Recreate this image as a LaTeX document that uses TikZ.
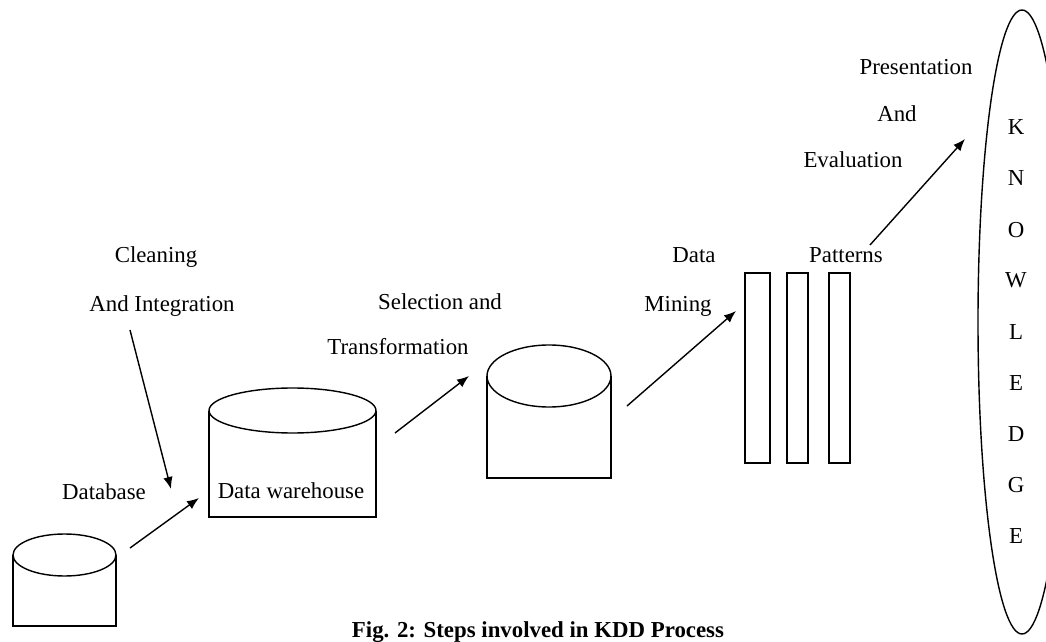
\documentclass[tikz,border=0pt]{standalone}
\usepackage{fontspec}
\setmainfont{Liberation Serif}
\usetikzlibrary{arrows.meta,positioning}
\tikzstyle{stage} = [text centered, anchor=base, inner sep=0pt, font=\fontsize{13}{15}\selectfont]
\tikzstyle{caption} = [stage, font=\fontsize{13}{15}\selectfont\bfseries]
\tikzstyle{store} = [draw, line width=0.8pt]
\tikzstyle{patbox} = [draw, line width=0.8pt, minimum height=3.8cm, inner sep=0pt]
\tikzstyle{arrow} = [draw, line width=0.8pt, -{Latex[length=2.4mm,width=1.9mm]}]
\newcommand{\stage}[2]{node (s#1) [stage] {#2}}
\newcommand{\patbox}[2]{node (p#1) [patbox, minimum width=#2] {}}
\newcommand{\dbstore}[6]{%
% sides and bottom of the cylinder
\path[store] (#2-#4,#3) -- (#2-#4,#6) -- (#2+#4,#6) -- (#2+#4,#3);
% top face
\path[store] (#2,#3) ellipse (#4 and #5);
\coordinate (#1) at (#2,#3);}

\begin{document}
\begin{tikzpicture}[x=0.02cm,y=-0.02cm]
\useasboundingbox (0,0) rectangle (1046,642);

\dbstore{db}{64.5}{555}{51.5}{21}{626}
\dbstore{dw}{292.5}{410.5}{83.5}{22.5}{517}
\dbstore{st}{549}{376}{62}{31}{478}

\path (757.5,368) \patbox{1}{0.5cm};
\path (p1)+(40,0) \patbox{2}{0.42cm};
\path (p2)+(42,0) \patbox{3}{0.42cm};

\path[store] (1022,322) ellipse (44 and 312);
\coordinate (kn) at (1022,322);

\path (156,263) \stage{1}{Cleaning};
\path (s1.base)+(6,49) \stage{2}{And Integration};
\path (104,499) \stage{3}{Database};
\path (291,498) \stage{4}{Data warehouse};
\path (440,310) \stage{5}{Selection and};
\path (s5.base)+(-42,45) \stage{6}{Transformation};
\path (694,263) \stage{7}{Data};
\path (s7.base)+(-16,49) \stage{8}{Mining};
\path (846,263) \stage{9}{Patterns};
\path (916,75) \stage{10}{Presentation};
\path (s10.base)+(-19,47) \stage{11}{And};
\path (s11.base)+(-44,46) \stage{12}{Evaluation};

\path (1016,135) \stage{k1}{K};
\path (sk1.base)+(0,51) \stage{k2}{N};
\path (sk2.base)+(0,51) \stage{k3}{O};
\path (sk3.base)+(0,51) \stage{k4}{W};
\path (sk4.base)+(0,51) \stage{k5}{L};
\path (sk5.base)+(0,51) \stage{k6}{E};
\path (sk6.base)+(0,51) \stage{k7}{D};
\path (sk7.base)+(0,51) \stage{k8}{G};
\path (sk8.base)+(0,51) \stage{k9}{E};

\coordinate (a1s) at (130,330);
\coordinate (a1e) at (171,489);
\coordinate (a2s) at (130,548);
\coordinate (a2e) at (199,498);
\coordinate (a3s) at (395,433);
\coordinate (a3e) at (469,376);
\coordinate (a4s) at (627,406);
\coordinate (a4e) at (736,311);
\coordinate (a5s) at (870,245);
\coordinate (a5e) at (965,139);
\path [arrow] (a1s) -- (a1e) node[] {};
\path [arrow] (a2s) -- (a2e) node[] {};
\path [arrow] (a3s) -- (a3e) node[] {};
\path [arrow] (a4s) -- (a4e) node[] {};
\path [arrow] (a5s) -- (a5e) node[] {};

\path (538,637) node (cap) [caption] {Fig. 2: Steps involved in KDD Process};
\end{tikzpicture}
\end{document}
